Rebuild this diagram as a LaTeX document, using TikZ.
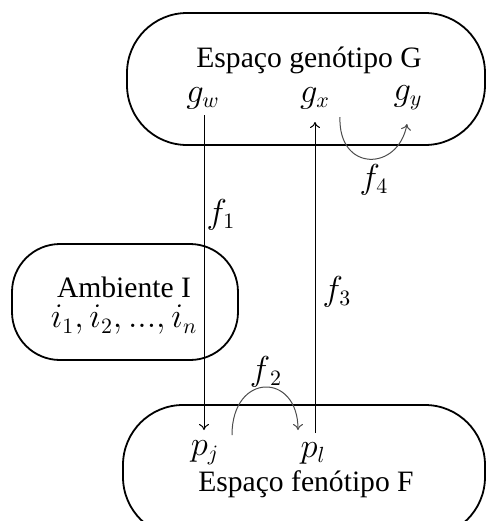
\documentclass[tikz,border=0pt]{standalone}
\usepackage{fontspec}
\setmainfont{Liberation Serif}
\usetikzlibrary{arrows.meta}
\begin{document}
\begin{tikzpicture}[x=0.5pt,y=-0.5pt,
  space/.style={draw, line width=0.9pt, rounded corners=30pt, inner sep=0pt},
  txt/.style={inner sep=0pt, font=\fontsize{14.8}{17}\selectfont},
  sym/.style={inner sep=2pt, font=\fontsize{16}{18}\selectfont},
  conn/.style={line width=0.5pt, -{To[length=3pt,width=5pt]}},
  loop/.style={line width=0.5pt, draw=black!70, -{To[length=3pt,width=5pt]}}]
\path[clip, use as bounding box] (0,0) rectangle (486,521);
% boxes
\node[space, minimum width=179pt, minimum height=66pt] (G) at (306,79) {};
\node[space, minimum width=113pt, minimum height=58pt, rounded corners=24pt] (I) at (125,302) {};
\node[space, minimum width=181pt, minimum height=66pt] (F) at (304,471) {};
% texts
\node[txt] (Gt) at (309,60) {Espaço genótipo G};
\node[txt] (It) at (124,287) {Ambiente I};
\node[sym] (il) at (124,320) {$i_1{,}\,i_2{,}\,...{,}\,i_n$};
\node[txt] (Ft) at (306,484) {Espaço fenótipo F};
% symbols
\node[sym] (gw) at (203,98) {$g_w$};
\node[sym] (gx) at (315,98) {$g_x$};
\node[sym] (gy) at (408,98) {$g_y$};
\node[sym] (pj) at (205,453) {$p_j$};
\node[sym] (pl) at (313,453) {$p_l$};
% labels
\node[sym] (f1) at (221,215) {$f_1$};
\node[sym] (f3) at (337,292) {$f_3$};
\node[sym] (f4) at (374,180) {$f_4$};
\node[sym] (f2) at (266,372) {$f_{\,2}$};
% connectors
\coordinate (a1) at (204,115);
\coordinate (a2) at (204,430);
\coordinate (b1) at (315,433);
\coordinate (b2) at (315,122);
\draw[conn] (a1) -- (a2);
\draw[conn] (b1) -- (b2);
\coordinate (c1) at (340,117);
\coordinate (c2) at (407,124);
\draw[loop] (c1) .. controls (338,172) and (398,172) .. (c2);
\coordinate (d1) at (232,435);
\coordinate (d2) at (298,430);
\draw[loop] (d1) .. controls (232,372) and (298,372) .. (d2);
\end{tikzpicture}
\end{document}
